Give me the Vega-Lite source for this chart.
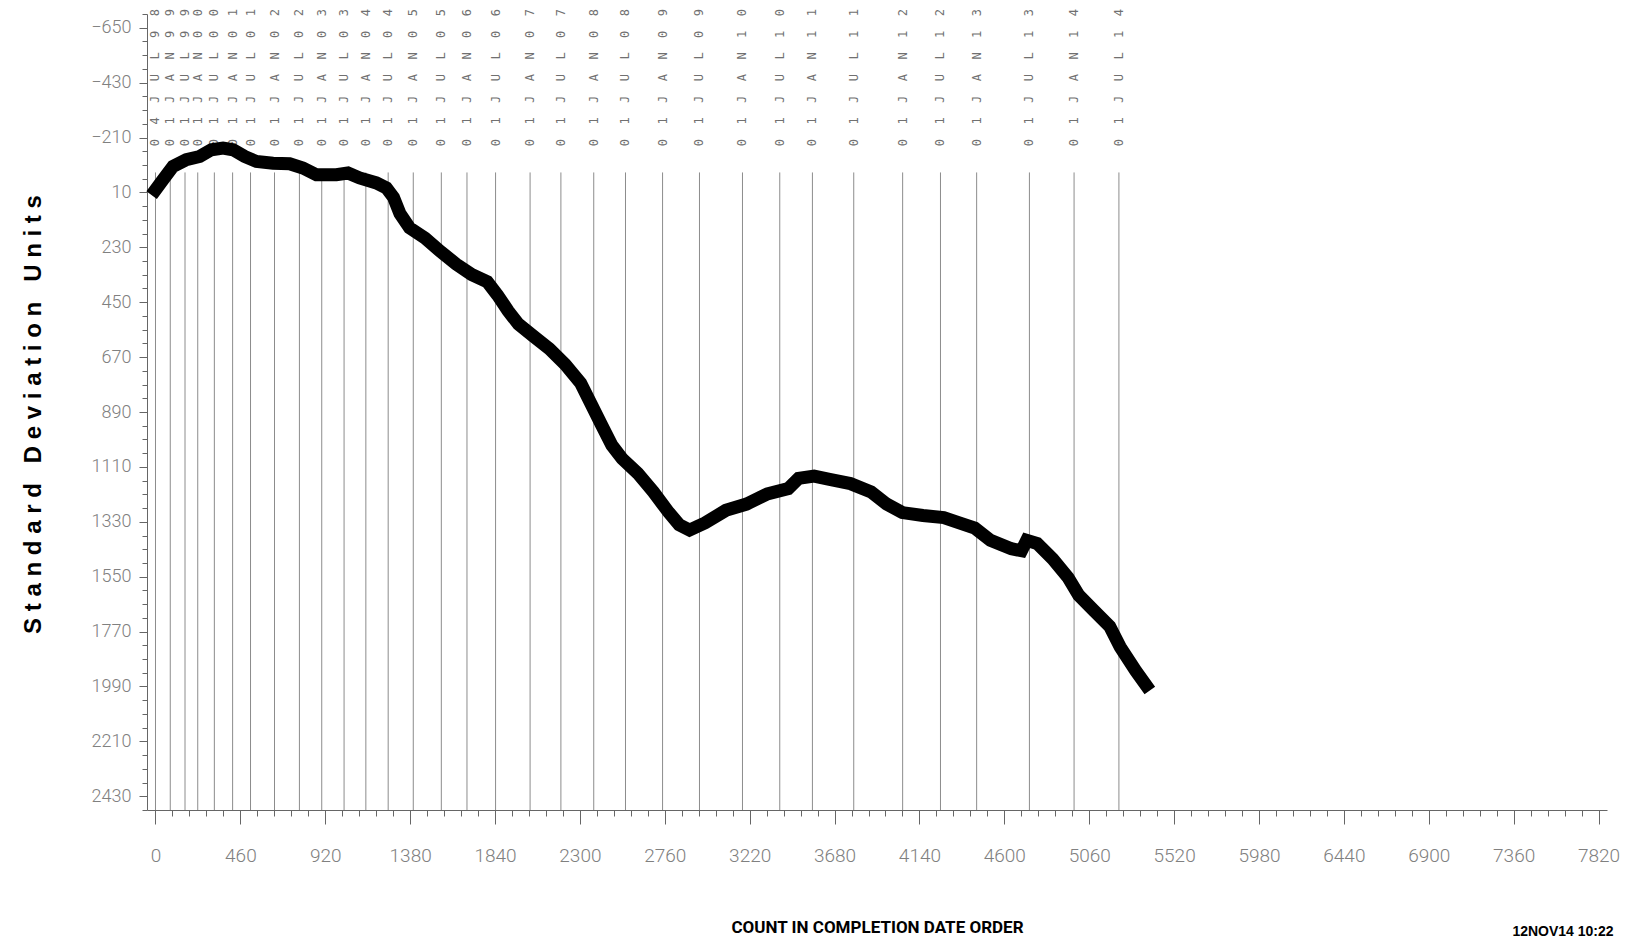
{
  "$schema": "https://vega.github.io/schema/vega-lite/v6.json",
  "width": 1460,
  "height": 796,
  "autosize": "none",
  "padding": {"left": 147, "top": 14, "right": 20, "bottom": 135},
  "background": "white",
  "config": {"view": {"stroke": null}, "axis": {"grid": false}},
  "title": {"text": "12NOV14 10:22", "orient": "bottom", "anchor": "end", "font": "Liberation Sans", "fontSize": 14, "fontWeight": "bold", "color": "black", "offset": -10, "dx": -6},
  "datasets": {
    "curve": [
      {"count": 0, "sdu": 0}, {"count": 40, "sdu": -40}, {"count": 95, "sdu": -94}, {"count": 167, "sdu": -121},
      {"count": 240, "sdu": -134}, {"count": 303, "sdu": -161}, {"count": 366, "sdu": -168}, {"count": 420, "sdu": -161},
      {"count": 483, "sdu": -134}, {"count": 547, "sdu": -114}, {"count": 637, "sdu": -107}, {"count": 727, "sdu": -105},
      {"count": 799, "sdu": -88}, {"count": 872, "sdu": -61}, {"count": 980, "sdu": -61}, {"count": 1043, "sdu": -68},
      {"count": 1106, "sdu": -48}, {"count": 1197, "sdu": -28}, {"count": 1251, "sdu": -8}, {"count": 1290, "sdu": 30},
      {"count": 1325, "sdu": 95}, {"count": 1377, "sdu": 152}, {"count": 1461, "sdu": 193}, {"count": 1545, "sdu": 247},
      {"count": 1629, "sdu": 297}, {"count": 1713, "sdu": 339}, {"count": 1798, "sdu": 368}, {"count": 1854, "sdu": 422},
      {"count": 1910, "sdu": 484}, {"count": 1967, "sdu": 538}, {"count": 2051, "sdu": 588}, {"count": 2135, "sdu": 637},
      {"count": 2220, "sdu": 699}, {"count": 2304, "sdu": 774}, {"count": 2360, "sdu": 857}, {"count": 2416, "sdu": 940},
      {"count": 2473, "sdu": 1023}, {"count": 2529, "sdu": 1077}, {"count": 2613, "sdu": 1135}, {"count": 2698, "sdu": 1210},
      {"count": 2782, "sdu": 1293}, {"count": 2838, "sdu": 1342}, {"count": 2894, "sdu": 1363}, {"count": 2979, "sdu": 1334},
      {"count": 3091, "sdu": 1284}, {"count": 3203, "sdu": 1259}, {"count": 3316, "sdu": 1218}, {"count": 3429, "sdu": 1197},
      {"count": 3485, "sdu": 1156}, {"count": 3569, "sdu": 1147}, {"count": 3653, "sdu": 1160}, {"count": 3766, "sdu": 1177},
      {"count": 3878, "sdu": 1210}, {"count": 3962, "sdu": 1259}, {"count": 4047, "sdu": 1293}, {"count": 4159, "sdu": 1305},
      {"count": 4272, "sdu": 1313}, {"count": 4356, "sdu": 1334}, {"count": 4440, "sdu": 1355}, {"count": 4525, "sdu": 1404},
      {"count": 4638, "sdu": 1438}, {"count": 4693, "sdu": 1446}, {"count": 4721, "sdu": 1404}, {"count": 4778, "sdu": 1417},
      {"count": 4862, "sdu": 1479}, {"count": 4946, "sdu": 1554}, {"count": 5003, "sdu": 1624}, {"count": 5087, "sdu": 1687},
      {"count": 5171, "sdu": 1749}, {"count": 5228, "sdu": 1832}, {"count": 5312, "sdu": 1927}, {"count": 5368, "sdu": 1985}
    ],
    "dates": [
      {"count": 0, "label": "04JUL98"}, {"count": 80, "label": "01JAN99"}, {"count": 160, "label": "01JUL99"},
      {"count": 229, "label": "01JAN00"}, {"count": 319, "label": "01JUL00"}, {"count": 418, "label": "01JAN01"},
      {"count": 515, "label": "01JUL01"}, {"count": 645, "label": "01JAN02"}, {"count": 780, "label": "01JUL02"},
      {"count": 901, "label": "01JAN03"}, {"count": 1022, "label": "01JUL03"}, {"count": 1140, "label": "01JAN04"},
      {"count": 1261, "label": "01JUL04"}, {"count": 1397, "label": "01JAN05"}, {"count": 1549, "label": "01JUL05"},
      {"count": 1688, "label": "01JAN06"}, {"count": 1843, "label": "01JUL06"}, {"count": 2030, "label": "01JAN07"},
      {"count": 2197, "label": "01JUL07"}, {"count": 2375, "label": "01JAN08"}, {"count": 2547, "label": "01JUL08"},
      {"count": 2748, "label": "01JAN09"}, {"count": 2948, "label": "01JUL09"}, {"count": 3181, "label": "01JAN10"},
      {"count": 3383, "label": "01JUL10"}, {"count": 3560, "label": "01JAN11"}, {"count": 3784, "label": "01JUL11"},
      {"count": 4049, "label": "01JAN12"}, {"count": 4254, "label": "01JUL12"}, {"count": 4450, "label": "01JAN13"},
      {"count": 4736, "label": "01JUL13"}, {"count": 4978, "label": "01JAN14"}, {"count": 5221, "label": "01JUL14"}
    ]
  },
  "layer": [
    {
      "data": {"name": "dates"},
      "mark": {"type": "rule", "color": "#8c8c8c", "strokeWidth": 1},
      "encoding": {
        "x": {
          "field": "count", "type": "quantitative",
          "scale": {"domain": [-46, 7866], "nice": false, "zero": false},
          "axis": {
            "orient": "bottom",
            "values": [0, 460, 920, 1380, 1840, 2300, 2760, 3220, 3680, 4140, 4600, 5060, 5520, 5980, 6440, 6900, 7360, 7820],
            "format": "d",
            "tickSize": 14, "tickColor": "#666", "domainColor": "#666",
            "labelFont": "Roboto", "labelFontWeight": 300, "labelFontSize": 19, "labelColor": "#808080",
            "labelPadding": 22, "labelFlush": false, "labelOverlap": false,
            "title": "COUNT IN COMPLETION DATE ORDER",
            "titleFont": "Roboto", "titleFontSize": 17, "titleFontWeight": "bold", "titleColor": "black",
            "titleX": 730, "titleY": 117, "titleBaseline": "middle", "titleAlign": "center"
          }
        },
        "y": {
          "datum": -70, "type": "quantitative",
          "scale": {"domain": [-705, 2485], "reverse": true, "nice": false, "zero": false},
          "axis": {
            "orient": "left",
            "values": [-650, -430, -210, 10, 230, 450, 670, 890, 1110, 1330, 1550, 1770, 1990, 2210, 2430],
            "format": "d",
            "tickSize": 8, "tickColor": "#666", "domainColor": "#666",
            "labelFont": "Roboto", "labelFontWeight": 300, "labelFontSize": 18, "labelColor": "#808080",
            "labelPadding": 8, "labelFlush": false, "labelOverlap": false,
            "title": "S\u00a0t\u00a0a\u00a0n\u00a0d\u00a0a\u00a0r\u00a0d\u00a0\u00a0\u00a0D\u00a0e\u00a0v\u00a0i\u00a0a\u00a0t\u00a0i\u00a0o\u00a0n\u00a0\u00a0\u00a0U\u00a0n\u00a0i\u00a0t\u00a0s",
            "titleFont": "Liberation Sans", "titleFontSize": 24, "titleFontWeight": "bold", "titleColor": "black",
            "titleAngle": 270, "titleX": -114, "titleY": 400, "titleBaseline": "middle", "titleAlign": "center"
          }
        },
        "y2": {"datum": 2485}
      }
    },
    {
      "data": {"name": "dates"},
      "transform": [{"calculate": "join(split(datum.label, ''), '\u00a0\u00a0')", "as": "spaced"}],
      "mark": {"type": "text", "angle": 270, "align": "left", "baseline": "middle", "font": "DejaVu Sans Mono", "fontSize": 12, "color": "#707070"},
      "encoding": {
        "x": {"field": "count", "type": "quantitative", "axis": null},
        "y": {"datum": -175, "type": "quantitative", "axis": null},
        "text": {"field": "spaced"}
      }
    },
    {
      "data": {"name": "curve"},
      "mark": {"type": "line", "color": "black", "strokeWidth": 13, "strokeCap": "square", "strokeJoin": "miter"},
      "encoding": {
        "x": {
          "field": "count", "type": "quantitative",
          "axis": {
            "orient": "bottom",
            "values": [0, 92, 184, 276, 368, 460, 552, 644, 736, 828, 920, 1012, 1104, 1196, 1288, 1380, 1472, 1564, 1656, 1748, 1840, 1932, 2024, 2116, 2208, 2300, 2392, 2484, 2576, 2668, 2760, 2852, 2944, 3036, 3128, 3220, 3312, 3404, 3496, 3588, 3680, 3772, 3864, 3956, 4048, 4140, 4232, 4324, 4416, 4508, 4600, 4692, 4784, 4876, 4968, 5060, 5152, 5244, 5336, 5428, 5520, 5612, 5704, 5796, 5888, 5980, 6072, 6164, 6256, 6348, 6440, 6532, 6624, 6716, 6808, 6900, 6992, 7084, 7176, 7268, 7360, 7452, 7544, 7636, 7728, 7820],
            "tickSize": 6, "tickColor": "#666", "labels": false, "domain": false, "title": null
          }
        },
        "y": {
          "field": "sdu", "type": "quantitative",
          "axis": {
            "orient": "left",
            "values": [-705, -650, -595, -540, -485, -430, -375, -320, -265, -210, -155, -100, -45, 10, 65, 120, 175, 230, 285, 340, 395, 450, 505, 560, 615, 670, 725, 780, 835, 890, 945, 1000, 1055, 1110, 1165, 1220, 1275, 1330, 1385, 1440, 1495, 1550, 1605, 1660, 1715, 1770, 1825, 1880, 1935, 1990, 2045, 2100, 2155, 2210, 2265, 2320, 2375, 2430, 2485],
            "tickSize": 5, "tickColor": "#666", "labels": false, "domain": false, "title": null
          }
        }
      }
    }
  ],
  "resolve": {"axis": {"x": "independent", "y": "independent"}}
}
